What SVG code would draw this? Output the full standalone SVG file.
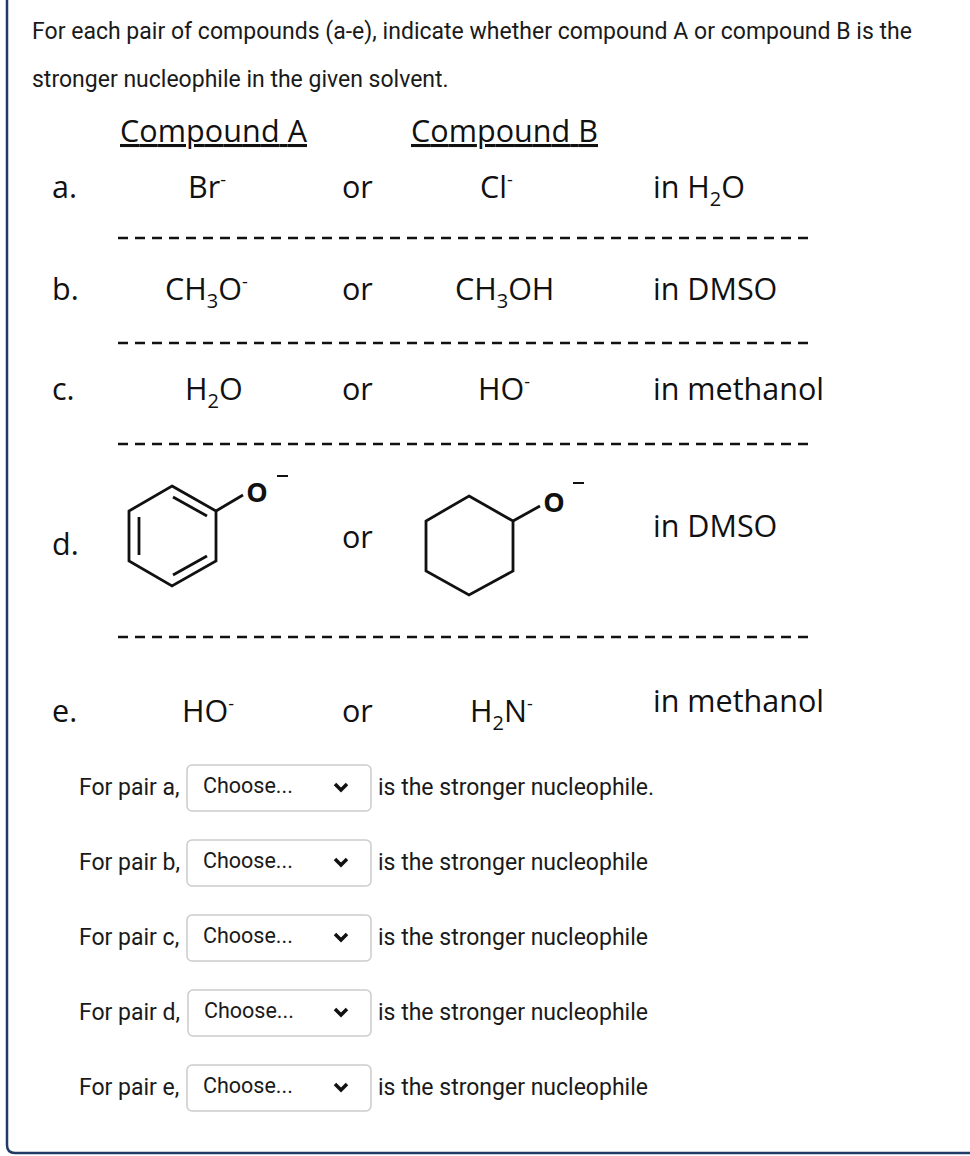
<svg xmlns="http://www.w3.org/2000/svg" width="970" height="1156" viewBox="0 0 970 1156">
<style>
.ui{font-family:Roboto,"Liberation Sans",sans-serif;font-size:23px;fill:#1a1a1a}
.sel{font-family:Roboto,"Liberation Sans",sans-serif;font-size:21.5px;fill:#1a1a1a}
.ch{font-family:"Open Sans","Liberation Sans",sans-serif;font-size:30.5px;fill:#111}
.sub{font-size:20px}
.sup{font-size:18px}
.dash{stroke:#111;stroke-width:2.5;stroke-dasharray:10 7;fill:none}
.mol{stroke:#111;stroke-width:2.8;fill:none;stroke-linejoin:miter}
.box{fill:#fff;stroke:#ccc;stroke-width:1.5}
.chev{stroke:#111;stroke-width:3.5;fill:none}
</style>
<rect width="970" height="1156" fill="#fff"/>
<path d="M7 0 V1145 Q7 1153 15 1153 H970" fill="none" stroke="#1f3b66" stroke-width="2.5"/>
<text class="ui" x="32" y="39" textLength="880">For each pair of compounds (a-e), indicate whether compound A or compound B is the</text>
<text class="ui" x="32" y="87">stronger nucleophile in the given solvent.</text>
<text class="ch" x="120" y="142" text-decoration="underline" textLength="187">Compound A</text>
<text class="ch" x="411" y="142" text-decoration="underline" textLength="187">Compound B</text>
<g class="ch">
<text x="52" y="198">a.</text>
<text x="188" y="198">Br<tspan class="sup" dy="-12">-</tspan></text>
<text x="342" y="198">or</text>
<text x="480" y="198">Cl<tspan class="sup" dy="-12">-</tspan></text>
<text x="653" y="198">in H<tspan class="sub" dy="8">2</tspan><tspan dy="-8">O</tspan></text>
<text x="52" y="300">b.</text>
<text x="165" y="300">CH<tspan class="sub" dy="8">3</tspan><tspan dy="-8">O</tspan><tspan class="sup" dy="-12">-</tspan></text>
<text x="342" y="300">or</text>
<text x="455" y="300">CH<tspan class="sub" dy="8">3</tspan><tspan dy="-8">OH</tspan></text>
<text x="653" y="300">in DMSO</text>
<text x="52" y="400">c.</text>
<text x="185" y="400">H<tspan class="sub" dy="8">2</tspan><tspan dy="-8">O</tspan></text>
<text x="342" y="400">or</text>
<text x="478" y="400">HO<tspan class="sup" dy="-12">-</tspan></text>
<text x="653" y="400">in methanol</text>
<text x="52" y="555">d.</text>
<text x="342" y="548">or</text>
<text x="653" y="537">in DMSO</text>
<text x="52" y="722">e.</text>
<text x="182" y="722">HO<tspan class="sup" dy="-12">-</tspan></text>
<text x="342" y="722">or</text>
<text x="470" y="722">H<tspan class="sub" dy="8">2</tspan><tspan dy="-8">N</tspan><tspan class="sup" dy="-12">-</tspan></text>
<text x="653" y="712">in methanol</text>
<text x="257" y="502" text-anchor="middle" font-size="27" font-weight="bold">O</text>
<text x="554" y="512" text-anchor="middle" font-size="27" font-weight="bold">O</text>
</g>
<g>
<line class="dash" x1="118" y1="238" x2="808" y2="238"/>
<line class="dash" x1="118" y1="343" x2="808" y2="343"/>
<line class="dash" x1="118" y1="444" x2="808" y2="444"/>
<line class="dash" x1="118" y1="637" x2="808" y2="637"/>
</g>
<g class="mol">
<polygon points="172,486 216,511 216,561 172,586 129,561 129,511"/>
<line x1="173" y1="497" x2="207" y2="516"/>
<line x1="139" y1="517" x2="139" y2="555"/>
<line x1="173" y1="575" x2="207" y2="556"/>
<line x1="216" y1="511" x2="243" y2="495"/>
<line x1="277" y1="476" x2="288" y2="476" stroke-width="2"/>
<polygon points="469,496 513,521 513,571 469,595 426,571 426,521"/>
<line x1="513" y1="521" x2="540" y2="506"/>
<line x1="573" y1="483" x2="584" y2="483" stroke-width="2"/>
</g>
<g id="dropdowns">
<g>
<text class="ui" x="79" y="795">For pair a,</text>
<rect class="box" x="187" y="765" width="184" height="46" rx="5"/>
<text class="sel" x="203" y="793">Choose...</text>
<path class="chev" d="M335 784 l6 6 l6 -6"/>
<text class="ui" x="378" y="795">is the stronger nucleophile.</text>
</g>
<g>
<text class="ui" x="79" y="870">For pair b,</text>
<rect class="box" x="187" y="840" width="184" height="46" rx="5"/>
<text class="sel" x="203" y="868">Choose...</text>
<path class="chev" d="M335 859 l6 6 l6 -6"/>
<text class="ui" x="378" y="870">is the stronger nucleophile</text>
</g>
<g>
<text class="ui" x="79" y="945">For pair c,</text>
<rect class="box" x="187" y="915" width="184" height="46" rx="5"/>
<text class="sel" x="203" y="943">Choose...</text>
<path class="chev" d="M335 934 l6 6 l6 -6"/>
<text class="ui" x="378" y="945">is the stronger nucleophile</text>
</g>
<g>
<text class="ui" x="79" y="1020">For pair d,</text>
<rect class="box" x="188" y="990" width="183" height="46" rx="5"/>
<text class="sel" x="204" y="1018">Choose...</text>
<path class="chev" d="M335 1009 l6 6 l6 -6"/>
<text class="ui" x="378" y="1020">is the stronger nucleophile</text>
</g>
<g>
<text class="ui" x="79" y="1095">For pair e,</text>
<rect class="box" x="187" y="1065" width="184" height="46" rx="5"/>
<text class="sel" x="203" y="1093">Choose...</text>
<path class="chev" d="M335 1084 l6 6 l6 -6"/>
<text class="ui" x="378" y="1095">is the stronger nucleophile</text>
</g>
</g>
</svg>
